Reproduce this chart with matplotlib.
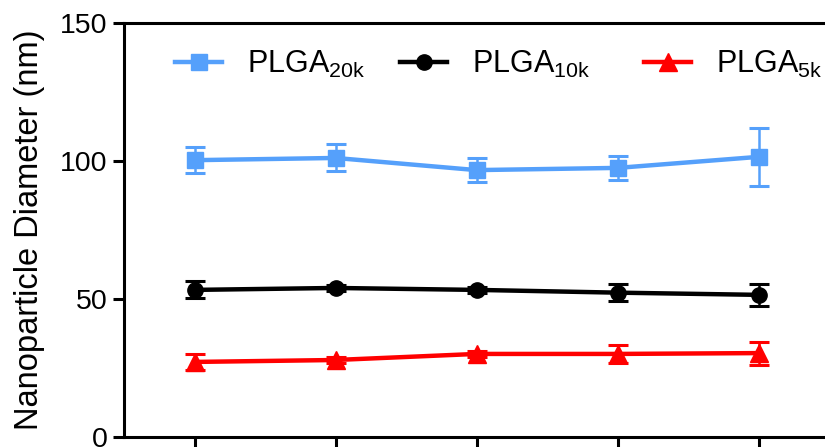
import numpy as np
import matplotlib
matplotlib.use("Agg")
import matplotlib.pyplot as plt

plt.rcParams['font.family'] = ['Liberation Sans', 'DejaVu Sans']
plt.rcParams['mathtext.fontset'] = 'custom'
plt.rcParams['mathtext.rm'] = 'Liberation Sans'

# data
timepoints = [1, 2, 3, 4, 5]
plga20k_mean = [100.3, 101.1, 96.7, 97.5, 101.5]
plga20k_err = [4.7, 4.9, 4.3, 4.3, 10.6]
plga10k_mean = [53.3, 54.0, 53.3, 52.3, 51.5]
plga10k_err = [3.1, 1.0, 1.0, 3.2, 4.0]
plga5k_mean = [27.2, 27.9, 30.1, 30.1, 30.4]
plga5k_err = [3.0, 1.0, 1.0, 3.4, 4.2]

series = [
    (plga20k_mean, plga20k_err, '#55A0FB', 's', 12, r'PLGA$_{\mathregular{20k}}$'),
    (plga10k_mean, plga10k_err, 'black', 'o', 11, r'PLGA$_{\mathregular{10k}}$'),
    (plga5k_mean, plga5k_err, '#FF0000', '^', 12.5, r'PLGA$_{\mathregular{5k}}$'),
]
# left edge of each legend entry (pixels)
legend_x = [175, 400, 644]

fig = plt.figure(figsize=(8.25, 4.47), dpi=100)
ax = fig.add_axes([124 / 825, 10 / 447, 705 / 825, 414 / 447])

lines = []
for mean, err, color, marker, ms, label in series:
    ax.errorbar(timepoints, mean, yerr=err, fmt='none', ecolor=color,
                elinewidth=1.8, capsize=7, capthick=2.2, zorder=2)
    ln, = ax.plot(timepoints, mean, color=color, marker=marker, markersize=ms,
                  linewidth=3.2, label=label, zorder=3)
    lines.append(ln)

ax.set_xlim(0.5, 5.5)
ax.set_ylim(0, 150)
ax.set_yticks([0, 50, 100, 150])
ax.set_xticks(timepoints)
ax.set_xticklabels([])

for side in ax.spines.values():
    side.set_linewidth(2.2)
ax.tick_params(axis='both', width=2.2, length=8, labelsize=20.5, pad=4)

ax.set_ylabel('Nanoparticle Diameter (nm)', fontsize=23.5, labelpad=11)

# one legend per entry so the gaps match the reference
for ln, lx in zip(lines, legend_x):
    leg = fig.legend(handles=[ln], loc='center left',
                     bbox_to_anchor=(lx / 825, 1 - 64 / 447),
                     frameon=False, fontsize=22, handlelength=1.55,
                     handletextpad=0.8, borderaxespad=0, borderpad=0)

fig.savefig('out.png', dpi=100)
